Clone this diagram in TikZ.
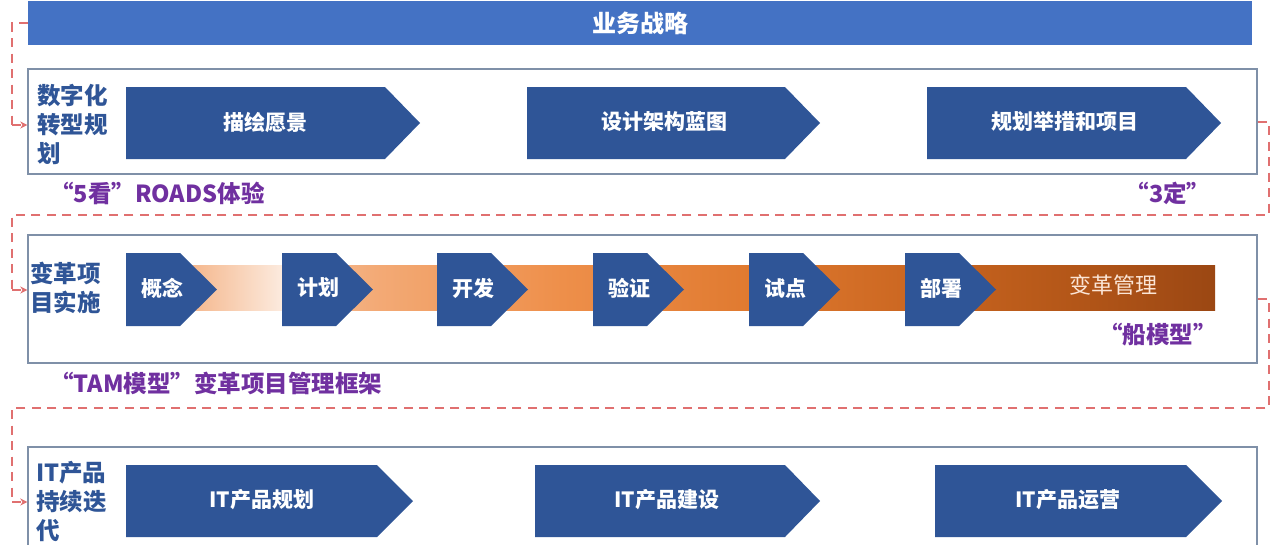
\documentclass[tikz,border=0pt]{standalone}
\usepackage{fontspec}
\newfontfamily\cjk{Noto Sans CJK SC}
\usetikzlibrary{arrows.meta}
\definecolor{barblue}{HTML}{4472C4}
\definecolor{arrblue}{HTML}{2F5597}
\definecolor{boxline}{HTML}{7F90A8}
\definecolor{dashred}{HTML}{E07070}
\definecolor{purp}{HTML}{7030A0}
\definecolor{lbl}{HTML}{2F5597}
\definecolor{cream}{HTML}{FBE5D6}
\definecolor{gA}{HTML}{F4B183}
\definecolor{gB}{HTML}{FCEBDF}
\definecolor{g0}{HTML}{F6C3A0}
\definecolor{g1}{HTML}{F3AA76}
\definecolor{g2}{HTML}{EE8F4A}
\definecolor{g3}{HTML}{E07A30}
\definecolor{g4}{HTML}{C8641F}
\definecolor{g5}{HTML}{B35618}
\definecolor{g6}{HTML}{9B4713}
\pgfdeclarehorizontalshading{barA}{100bp}{color(0bp)=(gA); color(25bp)=(gA); color(75bp)=(gB); color(100bp)=(gB)}
\pgfdeclarehorizontalshading{barB}{100bp}{%
  color(0bp)=(g0);
  color(25bp)=(g0);
  color(30bp)=(g1);
  color(40bp)=(g2);
  color(50bp)=(g3);
  color(60bp)=(g4);
  color(67.5bp)=(g5);
  color(75bp)=(g6);
  color(100bp)=(g6)}
\begin{document}
\begin{tikzpicture}[x=1pt,y=-1pt,
  box/.style={draw=boxline,line width=1.4pt,fill=none},
  chev/.style={fill=arrblue},
  ctext/.style={font=\cjk\bfseries\fontsize{21}{25}\selectfont,text=white},
  side/.style={font=\cjk\bfseries\fontsize{23.5}{29}\selectfont,text=lbl,align=left,anchor=north west,inner sep=0pt},
  note/.style={font=\cjk\bfseries\fontsize{23.5}{28}\selectfont,text=purp,inner sep=0pt},
  flow/.style={draw=dashred,line width=2.3pt,dash pattern=on 9pt off 6.5pt},
  flowtip/.style={-{Stealth[length=7pt,width=7pt]}}]
\useasboundingbox (0,0) rectangle (1280,544);
\clip (0,0) rectangle (1280,544);
\fill[white] (0,0) rectangle (1280,544);

% top bar
\node[fill=barblue,minimum width=1224pt,minimum height=44pt,inner sep=0pt,
  font=\cjk\bfseries\fontsize{24}{28}\selectfont,text=white] (bar) at (640,23) {业务战略};

% boxes
\node[box,minimum width=1229pt,minimum height=105pt,inner sep=0pt] (b1) at (642.5,121.5) {};
\node[box,minimum width=1229pt,minimum height=128pt,inner sep=0pt] (b2) at (642.5,299) {};
\node[box,minimum width=1229pt,minimum height=130pt,inner sep=0pt] (b3) at (642.5,512) {};

% side labels
\node[side] (s1) at (37,84) {数字化\\转型规\\划};
\node[side] (s2) at (30,262) {变革项\\目实施};
\node[side] (s3) at (36,461) {IT产品\\持续迭\\代};

% row 1 chevrons
\fill[chev] (126,87) -- (385,87) -- (420,123) -- (385,159) -- (126,159) -- cycle;
\node[ctext] (a1) at (265,122) {描绘愿景};
\fill[chev] (527,87) -- (785,87) -- (820,123) -- (785,159) -- (527,159) -- cycle;
\node[ctext] (a2) at (664,122) {设计架构蓝图};
\fill[chev] (927,87) -- (1186,87) -- (1221,123) -- (1186,159) -- (927,159) -- cycle;
\node[ctext] (a3) at (1065,122) {规划举措和项目};

% row 2 bar
\shade[shading=barA] (180,265) rectangle (283,310);
\shade[shading=barB] (282,265) rectangle (1215,310);
\node[font=\cjk\fontsize{22}{26}\selectfont,text=cream] (cm) at (1113,285) {变革管理};

% row 2 chevrons
\foreach \x/\t/\n in {126/概念/c1,282/计划/c2,437/开发/c3,593/验证/c4,749/试点/c5,905/部署/c6}{
  \fill[chev] (\x,253) -- ({\x+54},253) -- ({\x+91},289.5) -- ({\x+54},326) -- (\x,326) -- cycle;
  \node[ctext] (\n) at ({\x+36},288) {\t};
}

% row 3 chevrons
\fill[chev] (126,465) -- (377,465) -- (413,501) -- (377,537) -- (126,537) -- cycle;
\node[ctext] (d1) at (262,500) {IT产品规划};
\fill[chev] (535,465) -- (785,465) -- (820,501) -- (785,537) -- (535,537) -- cycle;
\node[ctext] (d2) at (667,500) {IT产品建设};
\fill[chev] (935,465) -- (1186,465) -- (1222,501) -- (1186,537) -- (935,537) -- cycle;
\node[ctext] (d3) at (1068,500) {IT产品运营};

% notes
\node[note,anchor=west] (n1) at (50,193) {“5看”ROADS体验};
\node[note] (n2) at (1168,193) {“3定”};
\node[note] (n3) at (1158,335) {“船模型”};
\node[note,anchor=west] (n4) at (50,383) {“TAM模型”变革项目管理框架};

% flow connectors
\draw[flow] (bar.west) -- (12,23) -- (12,125);
\draw[flow,flowtip] (12,125) -- (b1.west |- 0,125);
\draw[flow] (b1.east |- 0,122) -- (1269,122) -- (1269,215) -- (12,215) -- (12,290);
\draw[flow,flowtip] (12,290) -- (b2.west |- 0,290);
\draw[flow] (b2.east |- 0,299) -- (1269,299) -- (1269,408) -- (12,408) -- (12,502);
\draw[flow,flowtip] (12,502) -- (b3.west |- 0,502);
\end{tikzpicture}
\end{document}
